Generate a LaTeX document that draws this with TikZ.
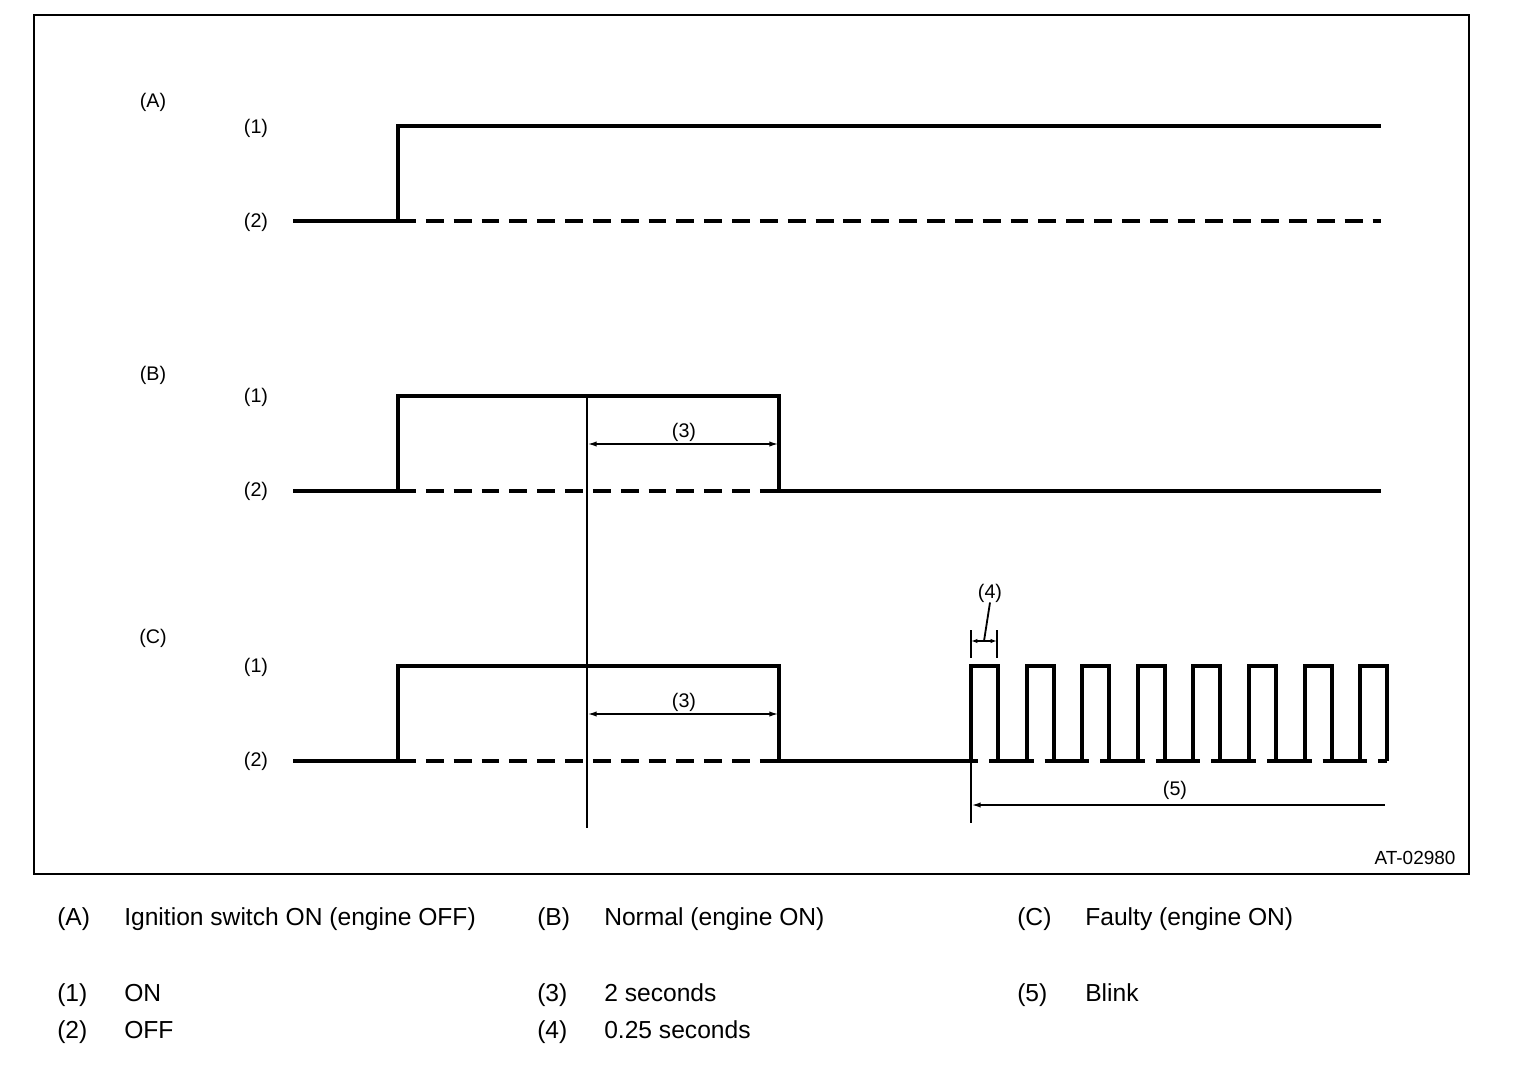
\documentclass[tikz,border=0pt]{standalone}
\usepackage{fontspec}
\setmainfont{Liberation Sans}
\usetikzlibrary{arrows.meta}

\tikzset{
  sig/.style={line width=2.8pt, line join=miter},
  sigoff/.style={line width=2.8pt, dash pattern=on 12.7pt off 7.1pt},
  fine/.style={line width=1.3pt},
  dimline/.style={line width=1.3pt, {Latex[length=2.4mm,width=1.3mm]}-{Latex[length=2.4mm,width=1.3mm]}},
  lbl/.style={font=\fontsize{14}{16}\selectfont, inner sep=0pt},
  key/.style={font=\fontsize{17.5}{20}\selectfont, inner sep=0pt, anchor=base west},
}

\begin{document}
\begin{tikzpicture}[x=0.025cm, y=-0.025cm]
  \useasboundingbox (0,0) rectangle (1536,1064);
  \draw[fine] (34,15) rectangle (1469,874);

  % signal (A)
  \node[lbl] at (153,102) (A)  {(A)};
  \node[lbl] at (256,128) (A1) {(1)};
  \node[lbl] at (256,222) (A2) {(2)};
  \draw[sig] (293,221) -- (398,221) -- (398,126) -- (1381,126);
  \draw[sigoff] (398,221) -- (1381,221);

  % signal (B)
  \node[lbl] at (153,375) (B)  {(B)};
  \node[lbl] at (256,397) (B1) {(1)};
  \node[lbl] at (256,491) (B2) {(2)};
  \draw[sig] (293,491) -- (398,491) -- (398,396) -- (779,396) -- (779,491) -- (1381,491);
  \draw[sigoff] (398,491) -- (779,491);

  % signal (C)
  \node[lbl] at (153,638) (C)  {(C)};
  \node[lbl] at (256,667) (C1) {(1)};
  \node[lbl] at (256,761) (C2) {(2)};
  \draw[sig] (293,761) -- (398,761) -- (398,666) -- (779,666) -- (779,761) -- (978,761);
  \draw[sigoff] (398,761) -- (779,761);
  \foreach \k in {0,...,7} {
    \pgfmathsetmacro\pl{971+55.6*\k}
    \draw[sig] (\pl,761) -- (\pl,666) -- (\pl+27,666) -- (\pl+27,761);
  }
  \foreach \k in {0,...,6} {
    \pgfmathsetmacro\pl{971+55.6*\k}
    \draw[sig] (\pl+18,761) -- (\pl+62.6,761);
  }
  \draw[sig] (1378,761) -- (1387,761);

  % 2 s marker
  \coordinate (start) at (587,396);
  \coordinate (stop)  at (587,828);
  \draw[fine] (start) -- (stop);
  \coordinate (b3l) at (587,444);
  \coordinate (b3r) at (779,444);
  \draw[dimline] (b3l) -- (b3r);
  \node[lbl] at (684,432) (B3) {(3)};
  \coordinate (c3l) at (587,714);
  \coordinate (c3r) at (779,714);
  \draw[dimline] (c3l) -- (c3r);
  \node[lbl] at (684,702) (C3) {(3)};

  % 0.25 s marker
  \coordinate (t4l) at (971,630);
  \coordinate (t4r) at (997,630);
  \draw[fine] (t4l) -- (971,658);
  \draw[fine] (t4r) -- (997,658);
  \coordinate (d4l) at (971,641);
  \coordinate (d4r) at (997,641);
  \draw[fine, {Latex[length=1.6mm,width=1.1mm]}-{Latex[length=1.6mm,width=1.1mm]}] (d4l) -- (d4r);
  \node[lbl] at (990,593) (C4) {(4)};
  \draw[fine] (984,641) -- (C4.south);

  % blink marker
  \coordinate (blink) at (971,761);
  \draw[fine] (blink) -- (971,823);
  \coordinate (d5l) at (971,805);
  \coordinate (d5r) at (1385,805);
  \draw[fine, {Latex[length=2.4mm,width=1.3mm]}-] (d5l) -- (d5r);
  \node[lbl] at (1175,790) (C5) {(5)};

  \node[lbl, font=\fontsize{13.5}{16}\selectfont] at (1415,858) (code) {AT-02980};

  % key
  \node[key] at (57,925)   (kA) {(A)};
  \node[key] at (124,925)  (tA) {Ignition switch ON (engine OFF)};
  \node[key] at (537,925)  (kB) {(B)};
  \node[key] at (604,925)  (tB) {Normal (engine ON)};
  \node[key] at (1017,925) (kC) {(C)};
  \node[key] at (1085,925) (tC) {Faulty (engine ON)};
  \node[key] at (57,1001)  (k1) {(1)};
  \node[key] at (124,1001) (t1) {ON};
  \node[key] at (537,1001) (k3) {(3)};
  \node[key] at (604,1001) (t3) {2 seconds};
  \node[key] at (1017,1001) (k5) {(5)};
  \node[key] at (1085,1001) (t5) {Blink};
  \node[key] at (57,1038)  (k2) {(2)};
  \node[key] at (124,1038) (t2) {OFF};
  \node[key] at (537,1038) (k4) {(4)};
  \node[key] at (604,1038) (t4) {0.25 seconds};
\end{tikzpicture}
\end{document}
